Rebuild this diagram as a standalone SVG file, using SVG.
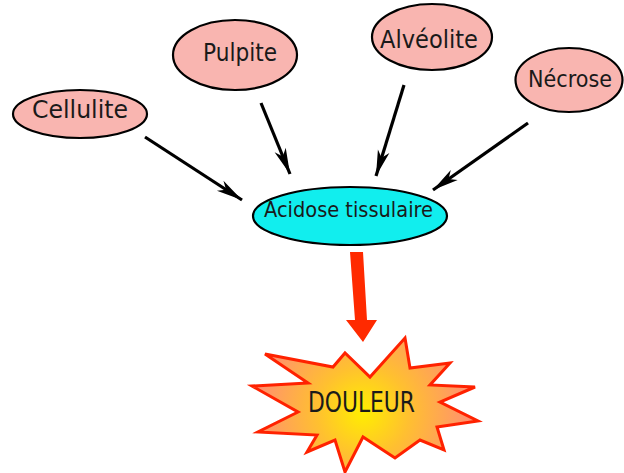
<svg xmlns="http://www.w3.org/2000/svg" width="624" height="473" viewBox="0 0 624 473">
<style>
.cause ellipse{fill:#f9b5b0;stroke:#000;stroke-width:2.2}
.lbl{font-family:"DejaVu Sans","Noto Sans",sans-serif;fill:#1a1a1a;text-anchor:middle}
.conn line{stroke:#000;stroke-width:3.2;stroke-linecap:butt}
</style>
<defs>
<marker id="ah" markerUnits="userSpaceOnUse" markerWidth="30" markerHeight="16" viewBox="-28 -8 30 16" refX="0" refY="0" orient="auto">
<path d="M0,0 L-26,-6 L-19,0 L-26,6 Z" fill="#000"/>
</marker>
<radialGradient id="sg" cx="363" cy="412" r="115" gradientUnits="userSpaceOnUse">
<stop offset="0" stop-color="#ffee00"/>
<stop offset="0.4" stop-color="#ffc030"/>
<stop offset="1" stop-color="#ff8a78"/>
</radialGradient>
</defs>
<g id="connectors" class="conn">
<line x1="145" y1="137" x2="242" y2="200" marker-end="url(#ah)"/>
<line x1="261" y1="103" x2="290" y2="174" marker-end="url(#ah)"/>
<line x1="404" y1="85" x2="376" y2="176" marker-end="url(#ah)"/>
<line x1="528" y1="123" x2="433" y2="190" marker-end="url(#ah)"/>
<polygon points="350,252 363,252 367,320 377,320 363,342 346,320 355,320" fill="#ff2a00"/>
</g>
<g id="cellulite" class="cause">
<ellipse cx="80" cy="114" rx="67" ry="24"/>
<text class="lbl" x="80" y="118" font-size="25" textLength="96" lengthAdjust="spacingAndGlyphs">Cellulite</text>
</g>
<g id="pulpite" class="cause">
<ellipse cx="235" cy="55" rx="62" ry="35"/>
<text class="lbl" x="240" y="61" font-size="25" textLength="74" lengthAdjust="spacingAndGlyphs">Pulpite</text>
</g>
<g id="alveolite" class="cause">
<ellipse cx="432" cy="37" rx="60" ry="33"/>
<text class="lbl" x="429" y="48" font-size="25" textLength="98" lengthAdjust="spacingAndGlyphs">Alvéolite</text>
</g>
<g id="necrose" class="cause">
<ellipse cx="569" cy="80" rx="53.5" ry="32"/>
<text class="lbl" x="570" y="87" font-size="23" textLength="84" lengthAdjust="spacingAndGlyphs">Nécrose</text>
</g>
<g id="acidose">
<ellipse cx="350" cy="216" rx="97" ry="29" fill="#11eeee" stroke="#000" stroke-width="2.2"/>
<text class="lbl" x="348.5" y="217" font-size="21" textLength="169" lengthAdjust="spacingAndGlyphs">Acidose tissulaire</text>
</g>
<g id="douleur">
<polygon points="405,338 410,368 450,363 430,385 475,387 440,402 478,421 437,427 444,450 420,440 395,458 363,437 345,472 335,440 307,452 317,435 258,432 298,412 252,386 308,383 265,354 333,367 345,353 370,377" fill="url(#sg)" stroke="#ff2200" stroke-width="3" stroke-linejoin="miter"/>
<text class="lbl" x="361.5" y="412" font-size="28" textLength="107" lengthAdjust="spacingAndGlyphs">DOULEUR</text>
</g>
</svg>
